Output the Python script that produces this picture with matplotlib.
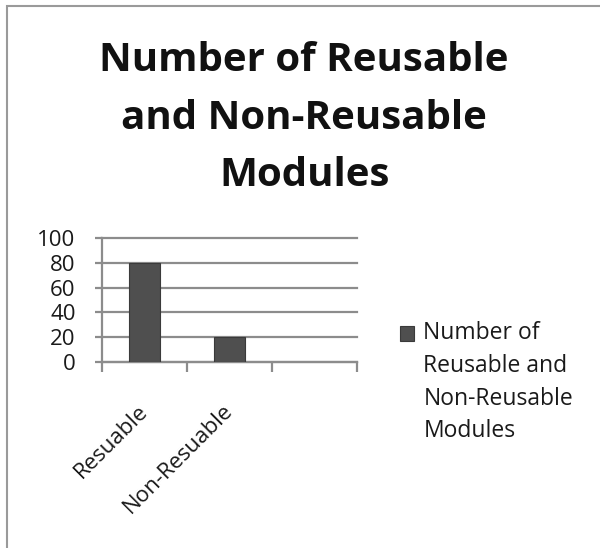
import matplotlib
matplotlib.use("Agg")
import matplotlib.pyplot as plt
from matplotlib.patches import Rectangle
from matplotlib.legend_handler import HandlerPatch

plt.rcParams['font.family'] = ['Open Sans', 'DejaVu Sans']

title = "Number of Reusable\nand Non-Reusable\nModules"
categories = ["Resuable", "Non-Resuable"]
values = [80, 20]
series_name = "Number of\nReusable and\nNon-Reusable\nModules"
y_ticks = [0, 20, 40, 60, 80, 100]

grid_col = "#8c8c8c"
bar_col = "#4f4f4f"
txt_size = 16


class TopHandler(HandlerPatch):
    # put the legend square next to the first line instead of the middle
    def create_artists(self, legend, orig_handle, xdescent, ydescent,
                       width, height, fontsize, trans):
        shift = 35.7
        p = Rectangle((-xdescent, -ydescent + shift), width, height,
                      facecolor=orig_handle.get_facecolor(),
                      edgecolor=orig_handle.get_edgecolor(), lw=0.8,
                      transform=trans)
        return [p]


fig = plt.figure(figsize=(6, 5.48), dpi=100)
ax = fig.add_axes([0.17, 0.3394, 0.425, 0.2263])

x = list(range(1, len(categories) + 1))
bars = ax.bar(x, values, width=0.365, color=bar_col, edgecolor="#3a3a3a",
              linewidth=0.8, zorder=3, label=series_name)

ax.set_xlim(0.5, 3.5)
ax.set_ylim(0, 100)
ax.set_yticks(y_ticks)
ax.yaxis.grid(True, color=grid_col, linewidth=1.6)
for gl in ax.get_ygridlines():
    gl.set_clip_on(False)
ax.set_axisbelow(True)

ax.set_xticks([0.5, 1.5, 2.5, 3.5])
ax.set_xticklabels([])
ax.set_xticks(x, categories, minor=True)
ax.tick_params(axis="x", which="major", length=7, width=1.6, color=grid_col,
               direction="out")
ax.tick_params(axis="x", which="minor", length=0, pad=33, labelsize=txt_size,
               labelcolor="#1a1a1a")
for lab in ax.get_xticklabels(minor=True):
    lab.set_rotation(45)
    lab.set_ha("right")
    lab.set_va("center")
    lab.set_rotation_mode("anchor")
ax.tick_params(axis="y", length=5, width=1.6, color=grid_col, pad=14,
               labelsize=txt_size, labelcolor="#1a1a1a")

for s in ["top", "right"]:
    ax.spines[s].set_visible(False)
for s in ["left", "bottom"]:
    ax.spines[s].set_color(grid_col)
    ax.spines[s].set_linewidth(1.6)

fig.text(0.507, 1 - 41 / 548, title, ha="center", va="top", fontsize=29,
         fontweight="bold", linespacing=1.62, color="#111111")

fig.legend(handles=[bars.patches[0]], labels=[series_name],
           handler_map={bars.patches[0].__class__: TopHandler()},
           loc="upper left", bbox_to_anchor=(400 / 600, 1 - 321 / 548),
           frameon=False, fontsize=16.5, handlelength=0.62,
           handleheight=0.62, handletextpad=0.4, borderpad=0,
           borderaxespad=0, labelspacing=0, labelcolor="#1a1a1a")
for t in fig.legends[0].get_texts():
    t.set_linespacing(1.49)

# chart frame, cut off at the right and bottom edges
fig.patches.append(Rectangle((7 / 600, -0.1), 1.2, 1.1 - 6 / 548,
                             transform=fig.transFigure, fill=False,
                             edgecolor="#9a9a9a", linewidth=1.5))

fig.savefig("out.png", dpi=100)
